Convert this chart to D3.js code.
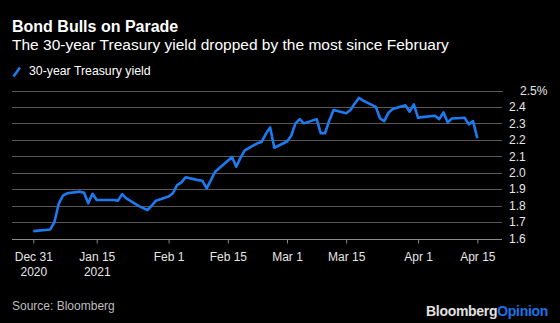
<!DOCTYPE html>
<html>
<head>
<meta charset="utf-8">
<script src="https://cdn.jsdelivr.net/npm/d3@7"></script>
<style>
  html, body { margin: 0; padding: 0; background: #000; }
  svg { display: block; font-family: "Liberation Sans", Arial, Helvetica, sans-serif; }
</style>
</head>
<body>
<svg id="chart" width="560" height="323"></svg>
<script>
// ---- data ----
const dates = [
  "2020-12-31",
  "2021-01-04","2021-01-05","2021-01-06","2021-01-07","2021-01-08",
  "2021-01-11","2021-01-12","2021-01-13","2021-01-14","2021-01-15",
  "2021-01-19","2021-01-20","2021-01-21","2021-01-22",
  "2021-01-25","2021-01-26","2021-01-27","2021-01-28","2021-01-29",
  "2021-02-01","2021-02-02","2021-02-03","2021-02-04","2021-02-05",
  "2021-02-08","2021-02-09","2021-02-10","2021-02-11","2021-02-12",
  "2021-02-16","2021-02-17","2021-02-18","2021-02-19",
  "2021-02-22","2021-02-23","2021-02-24","2021-02-25","2021-02-26",
  "2021-03-01","2021-03-02","2021-03-03","2021-03-04","2021-03-05",
  "2021-03-08","2021-03-09","2021-03-10","2021-03-11","2021-03-12",
  "2021-03-15","2021-03-16","2021-03-17","2021-03-18","2021-03-19",
  "2021-03-22","2021-03-23","2021-03-24","2021-03-25","2021-03-26",
  "2021-03-29","2021-03-30","2021-03-31","2021-04-01","2021-04-02",
  "2021-04-05","2021-04-06","2021-04-07","2021-04-08","2021-04-09",
  "2021-04-12","2021-04-13","2021-04-14","2021-04-15"
];
const yields = [
  1.645,
  1.655, 1.700, 1.810, 1.860, 1.875,
  1.885, 1.878, 1.814, 1.872, 1.834,
  1.834, 1.830, 1.870, 1.844,
  1.797, 1.785, 1.773, 1.800, 1.830,
  1.855, 1.875, 1.925, 1.940, 1.972,
  1.955, 1.951, 1.905, 1.955, 2.006,
  2.095, 2.036, 2.090, 2.136,
  2.179, 2.187, 2.236, 2.276, 2.152,
  2.190, 2.225, 2.300, 2.326, 2.300,
  2.326, 2.240, 2.240, 2.318, 2.381,
  2.362, 2.381, 2.420, 2.455, 2.438,
  2.400, 2.331, 2.314, 2.365, 2.387,
  2.410, 2.371, 2.416, 2.334, 2.338,
  2.346, 2.326, 2.367, 2.306, 2.330,
  2.334, 2.294, 2.314, 2.210
];
const xTickDates = ["2020-12-31","2021-01-15","2021-02-01","2021-02-15","2021-03-01","2021-03-15","2021-04-01","2021-04-15"];
const xTickLabels = [["Dec 31","2020"],["Jan 15","2021"],["Feb 1"],["Feb 15"],["Mar 1"],["Mar 15"],["Apr 1"],["Apr 15"]];
const yTicks = [1.6, 1.7, 1.8, 1.9, 2.0, 2.1, 2.2, 2.3, 2.4, 2.5];
const yTickLabels = ["1.6","1.7","1.8","1.9","2.0","2.1","2.2","2.3","2.4","2.5%"];

const title = "Bond Bulls on Parade";
const subtitle = "The 30-year Treasury yield dropped by the most since February";
const seriesName = "30-year Treasury yield";
const source = "Source: Bloomberg";

// ---- layout ----
const parse = d3.utcParse("%Y-%m-%d");
const data = dates.map((d, i) => ({ date: parse(d), value: yields[i] }));

const svg = d3.select("#chart");
svg.append("rect").attr("width", 560).attr("height", 323).attr("fill", "#000");

const x = d3.scaleUtc()
  .domain([parse(dates[0]), parse(dates[dates.length - 1])])
  .range([33.3, 477.3]);
const y = d3.scaleLinear().domain([1.6, 2.5]).range([238.5, 90.5]);

const gridLeft = 12, gridRight = 502;
const blue = "#1c7bf0";

// title etc.
svg.append("text").attr("x", 12).attr("y", 31.5)
  .attr("fill", "#fff").attr("font-size", 16).attr("font-weight", "bold").text(title);
svg.append("text").attr("x", 12).attr("y", 49.5)
  .attr("fill", "#fff").attr("font-size", 15.5).text(subtitle);

// legend
svg.append("line").attr("x1", 13.5).attr("y1", 76.5).attr("x2", 20).attr("y2", 67.5)
  .attr("stroke", blue).attr("stroke-width", 2.6).attr("stroke-linecap", "butt");
svg.append("text").attr("x", 29).attr("y", 75)
  .attr("fill", "#fff").attr("font-size", 12.3).text(seriesName);

// gridlines
svg.append("g").selectAll("line").data(yTicks).join("line")
  .attr("x1", gridLeft).attr("x2", (d, i) => i === yTicks.length - 1 ? gridRight + 1 : gridRight)
  .attr("y1", d => Math.round(y(d)) + 0.5).attr("y2", d => Math.round(y(d)) + 0.5)
  .attr("stroke", (d, i) => i === 0 ? "#8a8a8a" : "#595959").attr("stroke-width", 1);

// y labels
svg.append("g").selectAll("text").data(yTicks).join("text")
  .attr("x", (d, i) => i === yTicks.length - 1 ? 520 : 509)
  .attr("y", d => y(d) + 4.3)
  .attr("fill", "#e6e6e6").attr("font-size", 12)
  .text((d, i) => yTickLabels[i]);

// x axis
const xAxis = d3.axisBottom(x)
  .tickValues(xTickDates.map(parse))
  .tickSize(4)
  .tickFormat(() => "");
const gx = svg.append("g").attr("transform", `translate(0,${Math.round(y(1.6)) + 0.5})`).call(xAxis);
gx.select(".domain").remove();
gx.selectAll(".tick line").attr("stroke", "#8a8a8a");
gx.selectAll(".tick").each(function(d, i) {
  const t = d3.select(this).append("text")
    .attr("fill", "#e6e6e6").attr("font-size", 12).attr("text-anchor", "middle")
    .attr("y", 21.5);
  xTickLabels[i].forEach((s, j) => {
    t.append("tspan").attr("x", 0).attr("dy", j === 0 ? 0 : 15).text(s);
  });
});

// line
const line = d3.line().x(d => x(d.date)).y(d => y(d.value));
svg.append("path").datum(data)
  .attr("fill", "none").attr("stroke", blue).attr("stroke-width", 2.6)
  .attr("stroke-linejoin", "round").attr("stroke-linecap", "butt")
  .attr("d", line);

// footer
svg.append("text").attr("x", 12).attr("y", 309.5)
  .attr("fill", "#bdbdbd").attr("font-size", 12).text(source);
const brand = svg.append("text").attr("x", 548).attr("y", 315.5)
  .attr("text-anchor", "end").attr("font-size", 14).attr("font-weight", "bold")
  .attr("letter-spacing", "-0.3");
brand.append("tspan").attr("fill", "#e0e0e0").text("Bloomberg");
brand.append("tspan").attr("fill", "#1a73e8").text("Opinion");
</script>
</body>
</html>
